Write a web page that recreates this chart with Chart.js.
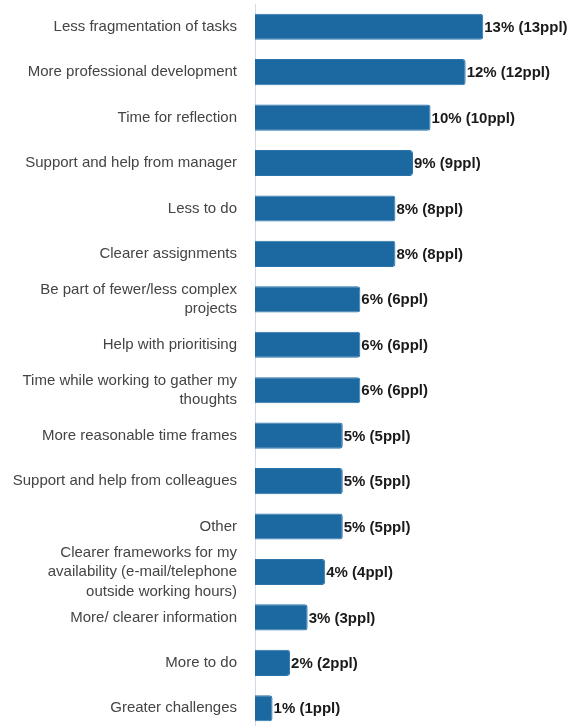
<!DOCTYPE html>
<html>
<head>
<meta charset="utf-8">
<script src="https://cdn.jsdelivr.net/npm/chart.js@4/dist/chart.umd.min.js"></script>
<style>
  html, body { margin: 0; padding: 0; background: #ffffff; overflow: hidden; }
  #wrap { position: relative; width: 571px; height: 731px; }
</style>
</head>
<body>
<div id="wrap"><canvas id="chart"></canvas></div>
<script>
// Answers to "what would help", share of respondents and head count
const categories = [
  'Less fragmentation of tasks',
  'More professional development',
  'Time for reflection',
  'Support and help from manager',
  'Less to do',
  'Clearer assignments',
  ['Be part of fewer/less complex', 'projects'],
  'Help with prioritising',
  ['Time while working to gather my', 'thoughts'],
  'More reasonable time frames',
  'Support and help from colleagues',
  'Other',
  ['Clearer frameworks for my', 'availability (e-mail/telephone', 'outside working hours)'],
  'More/ clearer information',
  'More to do',
  'Greater challenges'
];
const percentages = [13, 12, 10, 9, 8, 8, 6, 6, 6, 5, 5, 5, 4, 3, 2, 1];
const people = [13, 12, 10, 9, 8, 8, 6, 6, 6, 5, 5, 5, 4, 3, 2, 1];

// Writes "n% (Nppl)" just past the end of every bar
const valueLabels = {
  id: 'valueLabels',
  afterDatasetsDraw(chart) {
    const ctx = chart.ctx;
    const meta = chart.getDatasetMeta(0);
    ctx.save();
    ctx.font = 'bold 15px "Liberation Sans", Arial, sans-serif';
    ctx.fillStyle = '#1a1a1a';
    ctx.textAlign = 'left';
    ctx.textBaseline = 'middle';
    meta.data.forEach((bar, i) => {
      ctx.fillText(percentages[i] + '% (' + people[i] + 'ppl)', bar.x + 1, bar.y + 1);
    });
    ctx.restore();
  }
};

new Chart(document.getElementById('chart'), {
  type: 'bar',
  data: {
    labels: categories,
    datasets: [{
      data: percentages,
      backgroundColor: '#1c69a1',
      borderColor: '#2a74ab',
      borderWidth: 1,
      borderRadius: 3,
      borderSkipped: 'start',
      barPercentage: 0.575,
      categoryPercentage: 1.0
    }]
  },
  options: {
    indexAxis: 'y',
    responsive: true,
    maintainAspectRatio: false,
    animation: false,
    layout: { padding: { top: 4, right: 0, bottom: 0, left: 0 } },
    plugins: {
      legend: { display: false },
      tooltip: { enabled: false }
    },
    scales: {
      x: {
        display: false,
        min: 0,
        max: 18
      },
      y: {
        afterFit(scale) {
          scale.width = 255;
          scale.paddingTop = 0;
          scale.paddingBottom = 0;
        },
        grid: { display: false, drawTicks: false },
        border: { display: true, color: '#d3dbe8', width: 1 },
        ticks: {
          autoSkip: false,
          padding: 18,
          color: '#444444',
          font: { family: '"Liberation Sans", Arial, sans-serif', size: 15, lineHeight: 1.3 }
        }
      }
    }
  },
  plugins: [valueLabels]
});
</script>
</body>
</html>
